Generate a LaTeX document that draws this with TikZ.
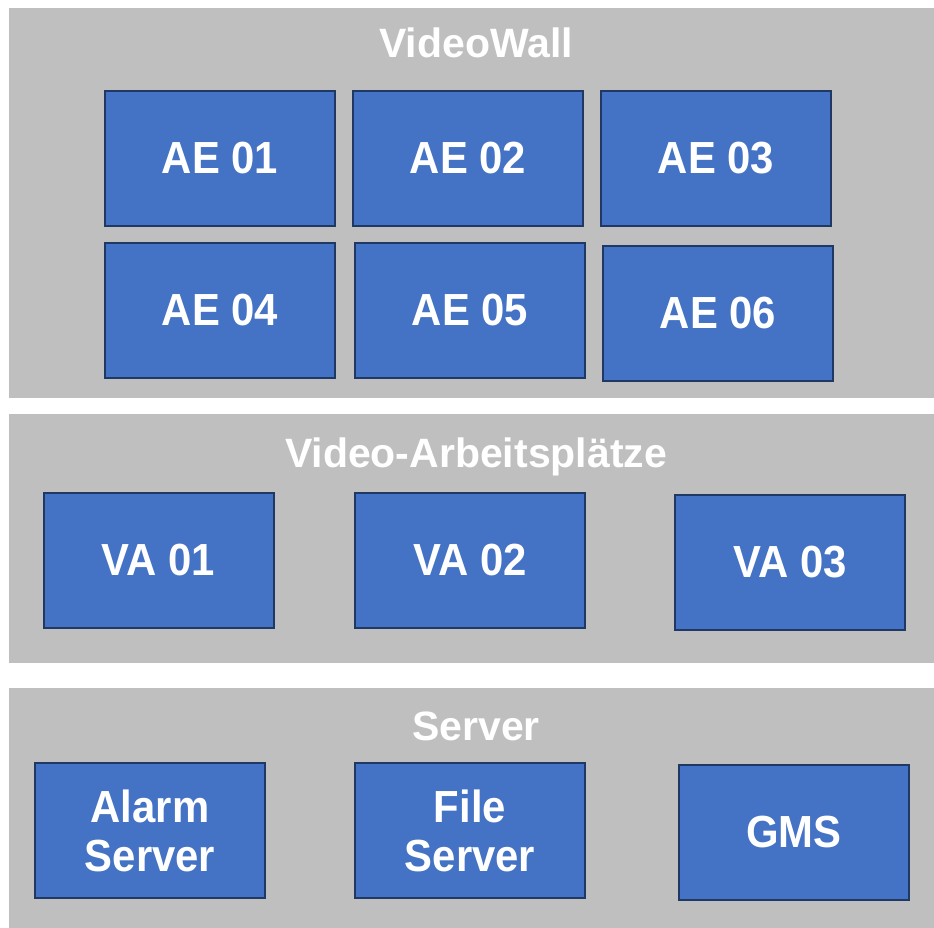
\documentclass[tikz,border=0pt]{standalone}
\usepackage{fontspec}
\setmainfont{Liberation Sans}
\newfontfamily\boxfont[FakeStretch=0.93]{Liberation Sans}
\definecolor{panelgray}{HTML}{BFBFBF}
\definecolor{boxblue}{HTML}{4472C4}
\definecolor{boxedge}{HTML}{1F3864}
\begin{document}
\begin{tikzpicture}[x=1pt,y=-1pt,
  panel/.style={fill=panelgray,draw=none},
  title/.style={anchor=base,text=white,font=\bfseries\fontsize{41}{46}\selectfont,inner sep=0pt},
  box/.style={draw=boxedge,fill=boxblue,line width=2pt,minimum width=230pt,minimum height=135pt,
    text=white,align=center,font=\boxfont\bfseries\fontsize{45}{49}\selectfont,inner sep=0pt}]
\useasboundingbox (0,0) rectangle (934,928);
\fill[white] (0,0) rectangle (934,928);
% panels
\path[panel] (9,8) rectangle (934,398);
\path[panel] (9,414) rectangle (934,663);
\path[panel] (9,688) rectangle (934,928);
% titles
\node[title] (t1) at (476,58) {VideoWall};
\node[title] (t2) at (476,467) {Video-Arbeitsplätze};
\node[title] (t3) at (476,740) {Server};
% VideoWall
\node[box] (ae1) at (220,158.5) {AE 01};
\node[box] (ae2) at (468,158.5) {AE 02};
\node[box] (ae3) at (716,158.5) {AE 03};
\node[box] (ae4) at (220,310.5) {AE 04};
\node[box] (ae5) at (470,310.5) {AE 05};
\node[box] (ae6) at (718,313) {AE 06};
% Arbeitsplaetze
\node[box] (va1) at (158.5,560) {VA 01};
\node[box] (va2) at (470,560) {VA 02};
\node[box] (va3) at (790,562) {VA 03};
% Server
\node[box] (alarm) at (150,830.5) {Alarm\\Server};
\node[box] (file) at (470,830.5) {File\\Server};
\node[box] (gms) at (794,832) {GMS};
\end{tikzpicture}
\end{document}
